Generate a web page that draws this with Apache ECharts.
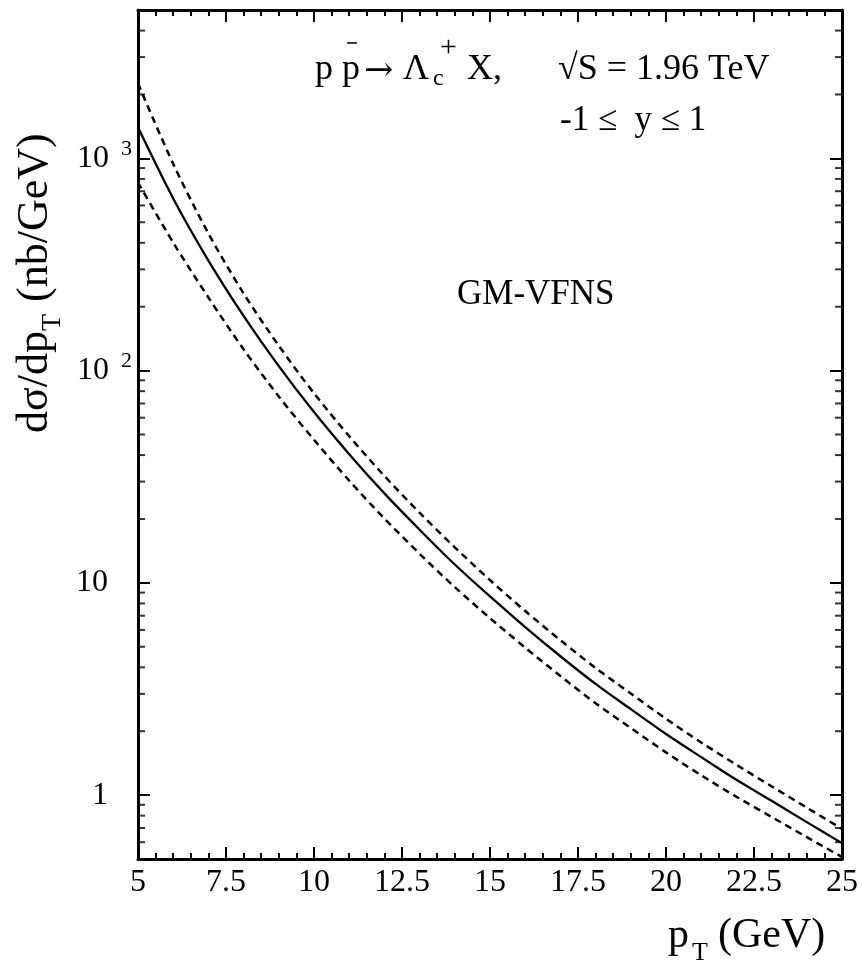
<!DOCTYPE html>
<html><head><meta charset="utf-8">
<script src="https://cdn.jsdelivr.net/npm/echarts@6/dist/echarts.min.js"></script>
<style>html,body{margin:0;padding:0;background:#fff}#c{width:862px;height:962px}</style>
</head><body><div id="c"></div>
<script>
// ---- data ----
const pT      = [5, 6, 7, 8, 9, 10, 11, 12, 13, 14, 15, 16, 17, 18, 19, 20, 21, 22, 23, 24, 25];
const central = [1400, 647, 330, 181, 105, 63.8, 40.4, 26.4, 17.8, 12.2, 8.63, 6.19, 4.51, 3.34, 2.54, 1.94, 1.51, 1.18, 0.940, 0.746, 0.594];
const upper   = [2254, 942, 443, 231, 131, 78.2, 49.1, 31.9, 21.4, 14.7, 10.3, 7.37, 5.37, 3.97, 3.01, 2.29, 1.77, 1.39, 1.10, 0.873, 0.693];
const lower   = [769, 401, 221, 126, 75.5, 47.2, 30.3, 20.1, 13.7, 9.55, 6.82, 4.95, 3.64, 2.71, 2.07, 1.59, 1.24, 0.982, 0.789, 0.634, 0.511];
const yMinorTicks = [0.6, 0.7, 0.8, 0.9, 2, 3, 4, 5, 6, 7, 8, 9, 20, 30, 40, 50, 60, 70, 80, 90,
                     200, 300, 400, 500, 600, 700, 800, 900, 2000, 3000, 4000];
const xRange = [5, 25];
const yRange = [0.5, 5000];

const FONT = 'Liberation Serif';
const chart = echarts.init(document.getElementById('c'), null, {renderer: 'canvas'});

function yLabel(v) {
  const l = Math.log10(v), e = Math.round(l);
  if (Math.abs(l - e) > 1e-6) return '';
  if (e === 0) return '{p|1}';
  if (e === 1) return '{p|10}';
  return '{b|10}{s|' + e + '}';
}
const axisLine = {show: true, onZero: false, lineStyle: {color: '#000', width: 3}};
const tick = {show: true, inside: true, length: 12, lineStyle: {color: '#000', width: 2}};
const minor = {show: true, splitNumber: 5, length: 6, lineStyle: {color: '#000', width: 2}};

const pairs = a => pT.map((x, i) => [x, a[i]]);
const txt = (x, y, text, size, extra) => Object.assign({type: 'text', x, y, silent: true,
  style: {text, font: size + 'px "' + FONT + '"', fill: '#000', align: 'left', verticalAlign: 'middle'}}, extra || {});

chart.setOption({
  animation: false,
  backgroundColor: '#fff',
  grid: {left: 138, right: 20, top: 10, bottom: 103, containLabel: false, outerBoundsMode: 'none'},
  xAxis: [
    {type: 'value', min: xRange[0], max: xRange[1], interval: 2.5, position: 'bottom',
     axisLine, axisTick: tick, minorTick: minor, splitLine: {show: false}, minorSplitLine: {show: false},
     axisLabel: {show: true, margin: 8, fontFamily: FONT, fontSize: 32, color: '#000'}},
    {type: 'value', min: xRange[0], max: xRange[1], interval: 2.5, position: 'top',
     axisLine, axisTick: tick, minorTick: minor, splitLine: {show: false},
     axisLabel: {show: false}}
  ],
  yAxis: [
    {type: 'log', logBase: 10, min: yRange[0], max: yRange[1], position: 'left',
     axisLine, axisTick: tick, splitLine: {show: false},
     axisLabel: {show: true, margin: 6, formatter: yLabel, color: '#000',
       rich: {
         p: {fontFamily: FONT, fontSize: 32, color: '#000', padding: [0, 24, 0, 0], lineHeight: 40},
         b: {fontFamily: FONT, fontSize: 32, color: '#000', lineHeight: 40},
         s: {fontFamily: FONT, fontSize: 22, color: '#000', verticalAlign: 'top', lineHeight: 22, padding: [0, 0, 0, 12]}
       }}},
    {type: 'log', logBase: 10, min: yRange[0], max: yRange[1], position: 'right',
     axisLine, axisTick: tick, splitLine: {show: false}, axisLabel: {show: false}}
  ],
  series: [
    {type: 'line', name: 'central', data: pairs(central), showSymbol: false, smooth: 0.3,
     lineStyle: {color: '#000', width: 2.3}},
    {type: 'line', name: 'upper', data: pairs(upper), showSymbol: false, smooth: 0.3,
     lineStyle: {color: '#000', width: 2.5, type: [7, 5]}},
    {type: 'line', name: 'lower', data: pairs(lower), showSymbol: false, smooth: 0.3,
     lineStyle: {color: '#000', width: 2.5, type: [7, 5]}},
    {type: 'scatter', name: 'yMinorLeft', data: yMinorTicks.map(v => [xRange[0], v]), clip: false, silent: true,
     symbol: 'rect', symbolSize: [7, 2], symbolOffset: [3.5, 0], itemStyle: {color: '#000'}},
    {type: 'scatter', name: 'yMinorRight', data: yMinorTicks.map(v => [xRange[1], v]), clip: false, silent: true,
     symbol: 'rect', symbolSize: [7, 2], symbolOffset: [-3.5, 0], itemStyle: {color: '#000'}}
  ],
  graphic: [
    // annotation line 1: p pbar -> Lambda_c^+ X,   sqrt(S) = 1.96 TeV
    txt(315, 69.9, 'p p', 36),
    {type: 'line', silent: true, shape: {x1: 347, y1: 43, x2: 357, y2: 43}, style: {stroke: '#000', lineWidth: 1.5}},
    {type: 'text', x: 364, y: 72, silent: true, style: {text: '\u2192', font: '35px "DejaVu Serif"', fill: '#000', align: 'left', verticalAlign: 'middle'}},
    txt(403, 69.9, '\u039B', 36),
    txt(433, 78.9, 'c', 24),
    txt(440, 48, '+', 30),
    txt(467, 69.9, 'X,', 36),
    txt(558, 69.9, '\u221AS = 1.96 TeV', 36),
    // line 2
    txt(560, 121.2, '-1 \u2264  y \u2264 1', 35),
    // scheme
    txt(457, 295.2, 'GM-VFNS', 35),
    // x-axis title
    txt(668, 935.8, 'p', 42),
    txt(692, 953, 'T', 26),
    txt(718, 935.8, '(GeV)', 42),
    // y-axis title (rotated)
    txt(35, 433, 'd\u03C3/dp', 44, {rotation: Math.PI / 2}),
    txt(52.5, 331, 'T', 28, {rotation: Math.PI / 2}),
    txt(35, 302, '(nb/GeV)', 44, {rotation: Math.PI / 2})
  ]
});
</script>
</body></html>
